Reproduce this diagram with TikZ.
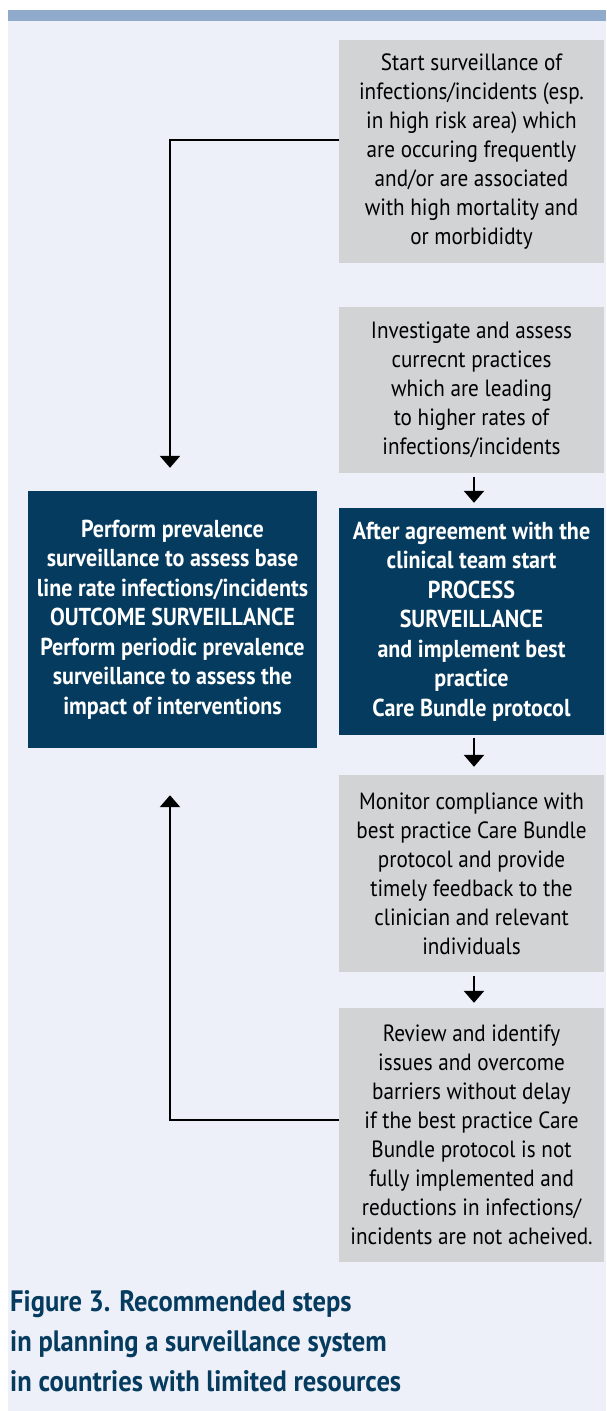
\documentclass[tikz,border=0pt]{standalone}
\usepackage{fontspec}
\setmainfont{PT Sans}[FakeStretch=0.9]
\usetikzlibrary{arrows.meta}
\definecolor{barblue}{HTML}{8FAACB}
\definecolor{panel}{HTML}{EDF0F8}
\definecolor{boxgray}{HTML}{D2D3D5}
\definecolor{navy}{HTML}{053B5E}
\tikzset{
  stepbox/.style={fill=boxgray, minimum width=265pt, inner sep=0pt, align=center,
    font=\fontsize{23.5}{29}\selectfont, text=black},
  keybox/.style={fill=navy, inner sep=0pt, align=center,
    font=\fontsize{24.5}{29.5}\selectfont\bfseries, text=white},
  flow/.style={line width=2.6pt, -{Triangle[width=20pt,length=12pt]}},
}
\begin{document}
\begin{tikzpicture}[x=1pt,y=-1pt]
\useasboundingbox (0,0) rectangle (606,1411);
% page panel and top rule
\fill[panel] (8,20) rectangle (606,1411);
\fill[barblue] (8,10) rectangle (606,21);

% right column of steps
\node[stepbox, minimum height=223pt] (b1) at (471.5,151.5)
  {Start surveillance of\\ infections/incidents (esp.\\ in high risk area) which\\ are occuring frequently\\ and/or are associated\\ with high mortality and\\ or morbididty};
\node[stepbox, minimum height=166pt] (b2) at (471.5,390)
  {Investigate and assess\\ currecnt practices\\ which are leading\\ to higher rates of\\ infections/incidents};
\node[keybox, minimum width=265pt, minimum height=227pt] (b3) at (471.5,621.5)
  {After agreement with the\\ clinical team start\\ PROCESS\\ SURVEILLANCE\\ and implement best\\ practice\\ Care Bundle protocol};
\node[stepbox, minimum height=197pt] (b4) at (471.5,873.5)
  {Monitor compliance with\\ best practice Care Bundle\\ protocol and provide\\ timely feedback to the\\ clinician and relevant\\ individuals};
\node[stepbox, minimum height=254pt] (b5) at (471.5,1135)
  {Review and identify\\ issues and overcome\\ barriers without delay\\ if the best practice Care\\ Bundle protocol is not\\ fully implemented and\\ reductions in infections/\\ incidents are not acheived.};

% left key box
\node[keybox, minimum width=289pt, minimum height=257pt] (nl) at (172.5,619.5)
  {Perform prevalence\\ surveillance to assess base\\ line rate infections/incidents\\ OUTCOME SURVEILLANCE\\ Perform periodic prevalence\\ surveillance to assess the\\ impact of interventions};

% connectors
\draw[flow, shorten <=4pt, shorten >=5pt] ([xshift=2.5pt]b2.south) -- ([xshift=2.5pt]b3.north);
\draw[flow, shorten <=3pt, shorten >=8pt] ([xshift=2.5pt]b3.south) -- ([xshift=2.5pt]b4.north);
\draw[flow, shorten <=4pt, shorten >=5pt] ([xshift=2.5pt]b4.south) -- ([xshift=2.5pt]b5.north);
\draw[flow, shorten >=23pt] (b1.west |- 0,140) -| ([xshift=-2.5pt]nl.north);
\draw[flow, shorten >=47pt] (b5.west |- 0,1120) -| ([xshift=-2.5pt]nl.south);

% caption
\node[anchor=north west, inner sep=0pt, align=left, text=navy,
  font=\fontsize{29.5}{40}\selectfont\bfseries] (cap) at (10,1290)
  {Figure 3. Recommended steps\\ in planning a surveillance system\\ in countries with limited resources};
\end{tikzpicture}
\end{document}
